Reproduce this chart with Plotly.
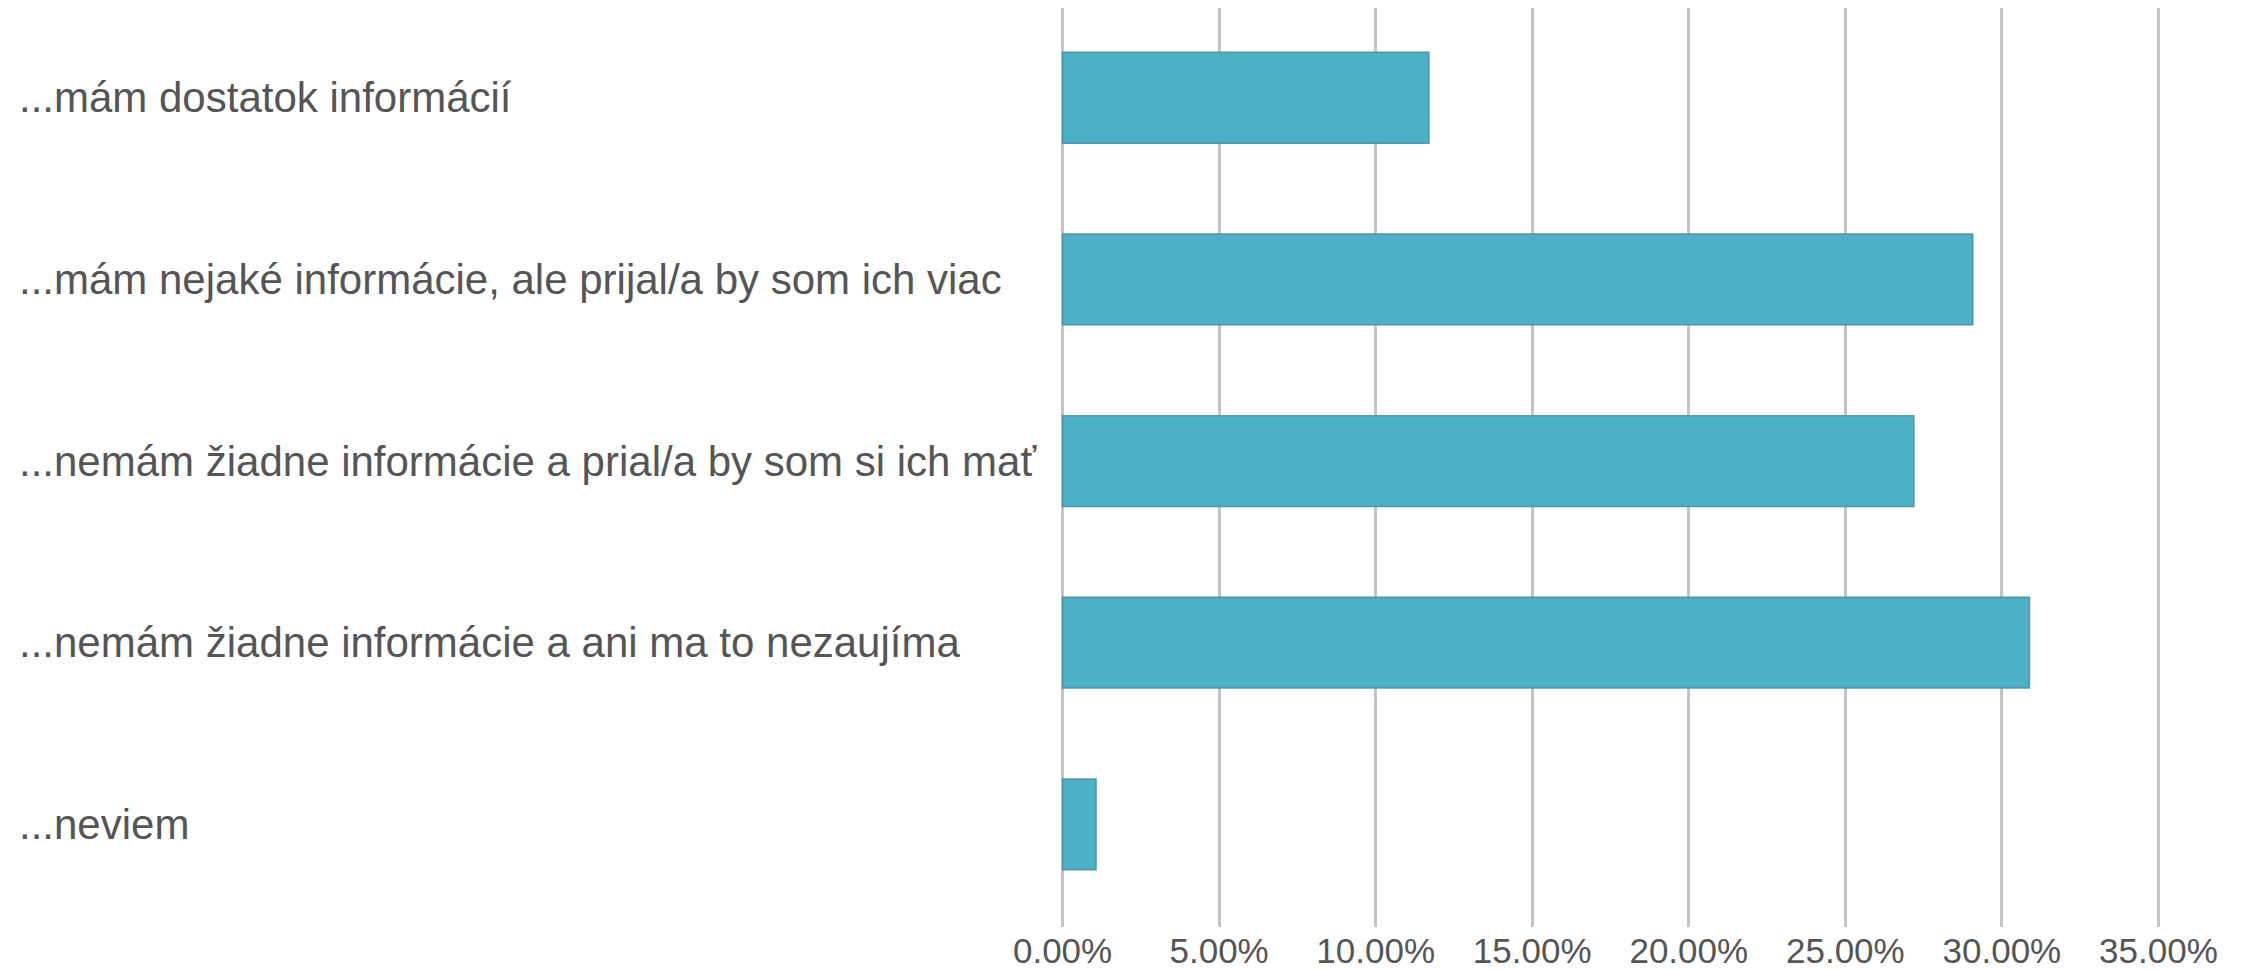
import plotly.graph_objects as go

categories = [
    "...mám dostatok informácií",
    "...mám nejaké informácie, ale prijal/a by som ich viac",
    "...nemám žiadne informácie a prial/a by som si ich mať",
    "...nemám žiadne informácie a ani ma to nezaujíma",
    "...neviem",
]
values = [0.1170, 0.2907, 0.2719, 0.3088, 0.0107]
tick_values = [0, 0.05, 0.10, 0.15, 0.20, 0.25, 0.30, 0.35]

# page body has an 8px default margin, so the figure is sized to fill the rest
W, H = 2239, 962
ml, mr, mt, mb = 1053, 87, 0, 40
plot_w = W - ml - mr

positions = list(range(len(categories)))

fig = go.Figure()
fig.add_trace(go.Bar(
    x=values,
    y=positions,
    orientation="h",
    width=0.5,
    marker=dict(color="#4cb0c7", line=dict(color="rgba(70,140,160,0.85)", width=1.5)),
    hoverinfo="x+text",
    text=categories,
    textposition="none",
))

annotations = []
for p, c in zip(positions, categories):
    annotations.append(dict(
        x=(9 - ml) / plot_w, xref="paper", xanchor="left",
        y=p, yref="y", yanchor="middle",
        text=c, showarrow=False,
        font=dict(family="Liberation Sans, Arial, sans-serif", size=42, color="#555555"),
    ))

fig.update_layout(
    width=W, height=H,
    margin=dict(l=ml, r=mr, t=mt, b=mb, pad=0),
    plot_bgcolor="white", paper_bgcolor="white",
    showlegend=False,
    annotations=annotations,
    xaxis=dict(
        range=[-0.0005, 0.3505], tickvals=tick_values, tickformat=".2%",
        showgrid=True, gridcolor="#c4c4c4", gridwidth=3,
        zeroline=False, showline=False, ticks="",
        tickfont=dict(family="Liberation Sans, Arial, sans-serif", size=35, color="#555555"),
    ),
    yaxis=dict(
        range=[4.565, -0.494], showticklabels=False, showgrid=False,
        zeroline=False, showline=False, ticks="",
    ),
)

fig.write_html("out.html")
